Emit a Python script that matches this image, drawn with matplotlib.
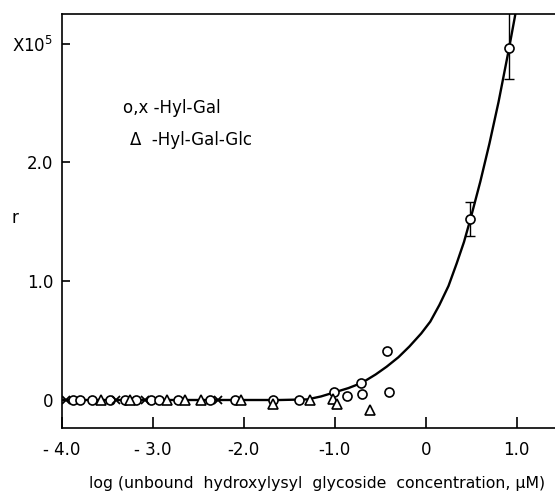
import matplotlib
matplotlib.use("Agg")
import matplotlib.pyplot as plt

plt.rcParams['font.family'] = ['DejaVu Sans']

# Hyl-Gal, circles
gal_x = [-3.876, -3.795, -3.663, -3.473, -3.308, -3.179, -3.014, -2.934, -2.722,
         -2.374, -2.099, -1.678, -1.39, -1.01, -0.87, -0.71, -0.70, -0.425, -0.40,
         0.49, 0.915]
gal_y = [0, 0, 0, 0, 0, 0, 0, 0, 0,
         0, 0, 0, 0, 0.065, 0.035, 0.145, 0.05, 0.41, 0.07,
         1.52, 2.96]

# Hyl-Gal, crosses
galx_x = [-3.956, -3.399, -3.088, -2.282]
galx_y = [0, 0, 0, 0]

# Hyl-Gal-Glc, triangles
glc_x = [-3.564, -3.253, -2.846, -2.648, -2.465, -2.025, -1.678, -1.275, -1.02, -0.98, -0.61]
glc_y = [0, 0, 0, 0, 0, 0, -0.035, 0.0, 0.005, -0.035, -0.085]

# error bars on the two high points
err_x = [0.49, 0.915]
err_y = [1.52, 2.96]
err_lo = [0.14, 0.26]
err_hi = [0.15, 0.45]

# hand-drawn fitted curve
curve_x = [-4.0, -1.6, -1.3, -1.15, -1.0, -0.85, -0.7, -0.55, -0.43, -0.3, -0.18,
           -0.05, 0.05, 0.15, 0.25, 0.34, 0.42, 0.49, 0.6, 0.7, 0.8, 0.915, 0.98, 1.0]
curve_y = [0, 0, 0.005, 0.03, 0.065, 0.10, 0.145, 0.215, 0.28, 0.36, 0.45,
           0.56, 0.66, 0.80, 0.96, 1.15, 1.33, 1.52, 1.84, 2.16, 2.51, 2.96, 3.23, 3.32]

xticks = [-4.0, -3.0, -2.0, -1.0, 0.0, 1.0]
xtick_labels = ['- 4.0', '- 3.0', '-2.0', '-1.0', '0', '1.0']
yticks = [0, 1, 2, 3]
ytick_labels = ['0', '1.0', '2.0', 'X10$^5$']

fig = plt.figure(figsize=(5.55, 4.93), dpi=100)
ax = fig.add_axes([0.111, 0.1318, 0.889, 0.8398])

ax.plot(curve_x, curve_y, color='black', lw=1.7, zorder=2)
ax.errorbar(err_x, err_y, yerr=[err_lo, err_hi], fmt='none', ecolor='black',
            elinewidth=1.0, capsize=3.5, capthick=1.0, zorder=2)
ax.plot(gal_x, gal_y, 'o', ms=6.5, mfc='white', mec='black', mew=1.2, zorder=3)
ax.plot(galx_x, galx_y, 'x', ms=5.5, mec='black', mew=1.3, zorder=3)
ax.plot(glc_x, glc_y, '^', ms=6.5, mfc='white', mec='black', mew=1.2, zorder=3)

ax.set_xlim(-4.0, 1.42)
ax.set_ylim(-0.236, 3.25)

ax.spines['right'].set_visible(False)
for s in ['left', 'bottom', 'top']:
    ax.spines[s].set_linewidth(1.2)

ax.set_xticks(xticks)
ax.set_xticklabels(xtick_labels)
ax.set_yticks(yticks)
ax.set_yticklabels(ytick_labels)
ax.tick_params(axis='x', direction='in', length=8, width=1.2, pad=9, labelsize=12)
ax.tick_params(axis='y', direction='in', length=6, width=1.2, pad=6, labelsize=12)

ax.set_xlabel('log (unbound  hydroxylysyl  glycoside  concentration, \u03bcM)',
              fontsize=11.3, va='center')
ax.xaxis.set_label_coords(0.518, -0.133)
ax.set_ylabel('r', rotation=0, fontsize=12, va='center')
ax.yaxis.set_label_coords(-0.094, 0.507)

ax.text(0.125, 0.773, 'o,x -Hyl-Gal', transform=ax.transAxes, fontsize=12, va='center')
ax.text(0.139, 0.696, '\u0394  -Hyl-Gal-Glc', transform=ax.transAxes, fontsize=12, va='center')

fig.savefig('out.png', dpi=100)
